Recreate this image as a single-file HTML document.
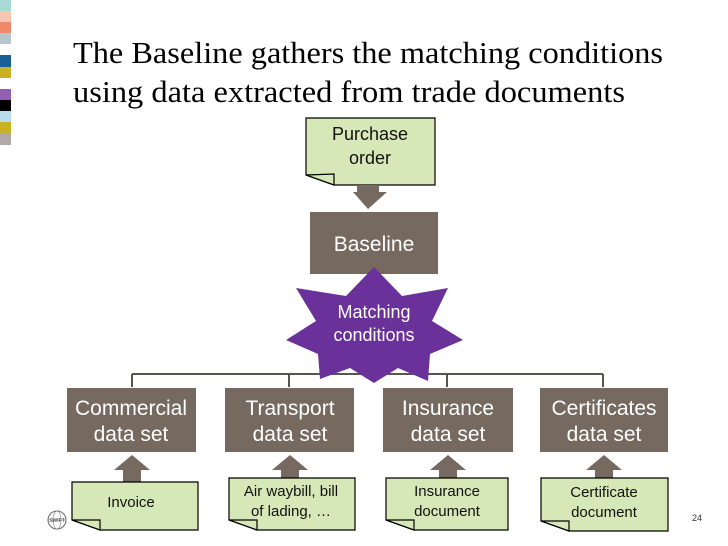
<!DOCTYPE html>
<html><head><meta charset="utf-8"><style>
html,body{margin:0;padding:0;background:#fff;}
svg{display:block;}
</style></head><body>
<svg width="728" height="546" xmlns="http://www.w3.org/2000/svg" font-family="Liberation Sans, sans-serif">
<rect x="0" y="0" width="11" height="11" fill="#a9d9d4"/>
<rect x="0" y="11" width="11" height="11" fill="#f7c6b2"/>
<rect x="0" y="22" width="11" height="11" fill="#f08a66"/>
<rect x="0" y="33" width="11" height="11" fill="#b9c5cc"/>
<rect x="0" y="55" width="11" height="12" fill="#1b5f97"/>
<rect x="0" y="67" width="11" height="11" fill="#c9b121"/>
<rect x="0" y="89" width="11" height="11" fill="#9160b0"/>
<rect x="0" y="100" width="11" height="11" fill="#000"/>
<rect x="0" y="111" width="11" height="11" fill="#b9dced"/>
<rect x="0" y="122" width="11" height="11" fill="#c9b121"/>
<rect x="0" y="133" width="11" height="12" fill="#b1aaa6"/>

<text x="73" y="63" font-family="Liberation Serif, serif" font-size="31" textLength="590" lengthAdjust="spacingAndGlyphs">The Baseline gathers the matching conditions</text>
<text x="73" y="102" font-family="Liberation Serif, serif" font-size="31" textLength="552" lengthAdjust="spacingAndGlyphs">using data extracted from trade documents</text>

<path d="M306,118 H435 V185 H334 L306,175 Z" fill="#d7e8b8" stroke="#000" stroke-width="1.2"/>
<path d="M306,175 L334,185 V174 Z" fill="#d7e8b8" stroke="#000" stroke-width="1.2"/>
<text x="370" y="140" font-size="18" text-anchor="middle" fill="#111">Purchase</text>
<text x="370" y="164" font-size="18" text-anchor="middle" fill="#111">order</text>
<polygon points="357,185 379,185 379,192 387,192 368,209 353,192 357,192" fill="#76695f"/>

<rect x="310" y="212" width="128" height="62" fill="#76695f"/>
<text x="374" y="251" font-size="21" text-anchor="middle" fill="#fff">Baseline</text>

<g stroke="#5a5450" stroke-width="2" fill="none">
<path d="M132,374 H603"/>
<path d="M132,374 V387 M289,374 V387 M447,374 V387 M603,374 V387"/>
</g>

<polygon points="374,267 402,296 448,288 432,321 463,340 430,354 428,381 398,368 374,383 350,368 320,379 318,354 286,340 316,321 296,288 346,296" fill="#6b319a"/>
<text x="374" y="318" font-size="18" text-anchor="middle" fill="#fff">Matching</text>
<text x="374" y="341" font-size="18" text-anchor="middle" fill="#fff">conditions</text>

<g fill="#76695f">
<rect x="67" y="388" width="129" height="64"/>
<rect x="225" y="388" width="129" height="64"/>
<rect x="383" y="388" width="130" height="64"/>
<rect x="540" y="388" width="128" height="64"/>
</g>
<g font-size="21" fill="#fff" text-anchor="middle">
<text x="131" y="415">Commercial</text><text x="131" y="441">data set</text>
<text x="290" y="415">Transport</text><text x="290" y="441">data set</text>
<text x="448" y="415">Insurance</text><text x="448" y="441">data set</text>
<text x="604" y="415">Certificates</text><text x="604" y="441">data set</text>
</g>

<g fill="#76695f">
<polygon points="132,455 150,470 141,470 141,483 123,483 123,470 114,470"/>
<polygon points="290,455 308,470 299,470 299,480 281,480 281,470 272,470"/>
<polygon points="448,455 466,470 457,470 457,479 439,479 439,470 430,470"/>
<polygon points="604,455 622,470 613,470 613,479 595,479 595,470 586,470"/>
</g>

<g fill="#d7e8b8" stroke="#000" stroke-width="1.2">
<path d="M72,482 H198 V530 H100 L72,520 Z"/><path d="M72,520 L100,530 V520 Z"/>
<path d="M229,478 H355 V530 H257 L229,520 Z"/><path d="M229,520 L257,530 V520 Z"/>
<path d="M386,478 H508 V530 H414 L386,520 Z"/><path d="M386,520 L414,530 V520 Z"/>
<path d="M541,478 H668 V531 H569 L541,521 Z"/><path d="M541,521 L569,531 V521 Z"/>
</g>
<g font-size="15" fill="#111" text-anchor="middle">
<text x="131" y="507">Invoice</text>
<text x="291" y="496">Air waybill, bill</text><text x="291" y="516">of lading, …</text>
<text x="447" y="496">Insurance</text><text x="447" y="516">document</text>
<text x="604" y="497">Certificate</text><text x="604" y="517">document</text>
</g>

<circle cx="57" cy="520" r="9" fill="#fff" stroke="#666" stroke-width="1"/>
<ellipse cx="57" cy="520" rx="4" ry="9" fill="none" stroke="#888" stroke-width="0.7"/>
<line x1="48" y1="520" x2="66" y2="520" stroke="#888" stroke-width="0.7"/>
<text x="57" y="522" font-size="5" text-anchor="middle" fill="#333">SWIFT</text>

<text x="692" y="521" font-size="9" fill="#333">24</text>
</svg>
</body></html>
